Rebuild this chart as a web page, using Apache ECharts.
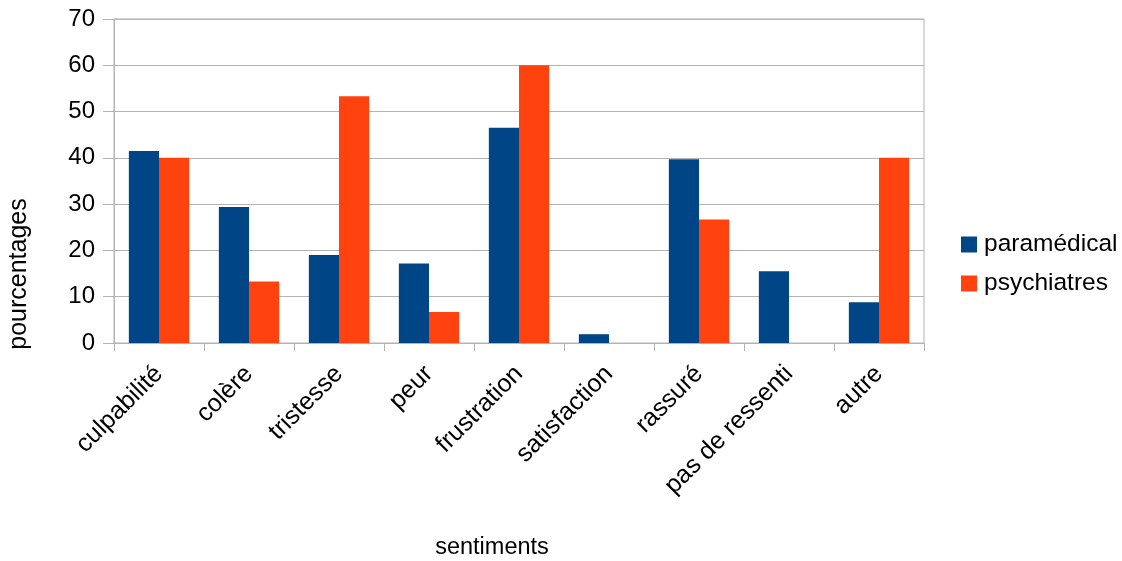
<!DOCTYPE html>
<html>
<head>
<meta charset="utf-8">
<script src="https://cdn.jsdelivr.net/npm/echarts@6/dist/echarts.min.js"></script>
<style>html,body{margin:0;padding:0;background:#fff}#c{width:1122px;height:561px}</style>
</head>
<body>
<div id="c"></div>
<script>
const categories = ['culpabilité','colère','tristesse','peur','frustration','satisfaction','rassuré','pas de ressenti','autre'];
const paramedical = [41.5, 29.4, 19.0, 17.2, 46.5, 1.9, 39.7, 15.5, 8.8];
const psychiatres = [40.0, 13.3, 53.3, 6.7, 60.0, 0, 26.7, 0, 40.0];
const seriesNames = ['paramédical','psychiatres'];
const xTitle = 'sentiments';
const yTitle = 'pourcentages';

const font = '"Liberation Sans", Arial, sans-serif';
const gridCol = '#b3b3b3';
const chart = echarts.init(document.getElementById('c'));
chart.setOption({
  animation: false,
  textStyle: {fontFamily: font},
  grid: {left: 114, right: 198, top: 19, bottom: 218, show: true, borderColor: gridCol, borderWidth: 1},
  legend: {
    orient: 'vertical', left: 956, top: 227, itemWidth: 16, itemHeight: 16, itemGap: 14,
    icon: 'rect',
    textStyle: {fontSize: 24.5, color: '#000', fontFamily: font, padding: [0,0,0,2]},
    data: seriesNames
  },
  xAxis: {
    type: 'category', data: categories,
    axisLine: {lineStyle: {color: gridCol}},
    axisTick: {show: true, length: 8, lineStyle: {color: gridCol}},
    axisLabel: {rotate: 45, fontSize: 25, color: '#000', margin: 27, interval: 0, fontFamily: font}
  },
  yAxis: {
    type: 'value', min: 0, max: 70, interval: 10,
    axisLine: {show: true, lineStyle: {color: gridCol}},
    axisTick: {show: true, length: 11, lineStyle: {color: gridCol}},
    axisLabel: {fontSize: 24, color: '#000', margin: 19, fontFamily: font},
    splitLine: {lineStyle: {color: gridCol}}
  },
  graphic: [
    {type: 'text', x: 492, y: 548, style: {text: xTitle, fontSize: 23.5, fill: '#000', fontFamily: font, align: 'center', verticalAlign: 'middle'}},
    {type: 'text', x: 19, y: 274, rotation: Math.PI/2, style: {text: yTitle, fontSize: 25, fill: '#000', fontFamily: font, align: 'center', verticalAlign: 'middle'}}
  ],
  series: [
    {name: seriesNames[0], type: 'bar', data: paramedical, itemStyle: {color: '#004586'}, barGap: '0%', barCategoryGap: '33%'},
    {name: seriesNames[1], type: 'bar', data: psychiatres, itemStyle: {color: '#ff420e'}, barGap: '0%', barCategoryGap: '33%'}
  ]
});
</script>
</body>
</html>
